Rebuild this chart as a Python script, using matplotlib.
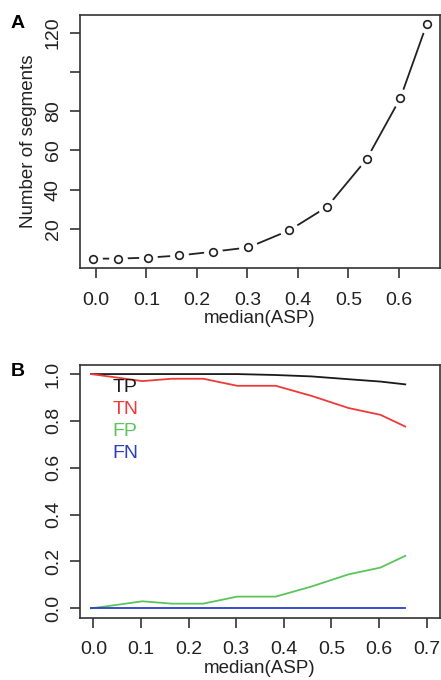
import matplotlib
matplotlib.use('Agg')
from matplotlib import pyplot as plt

matplotlib.rcParams['font.family'] = ['Liberation Sans', 'DejaVu Sans']

# data
asp = [-0.005, 0.043, 0.103, 0.165, 0.231, 0.302, 0.383, 0.458, 0.536, 0.603, 0.655]
n_segments = [4.9, 4.9, 5.4, 6.5, 8.4, 10.6, 19.3, 31.3, 55.5, 86.7, 124.2]

tp = [1.0, 1.0, 1.0, 1.0, 1.0, 1.0, 0.996, 0.99, 0.978, 0.968, 0.956]
tn = [1.0, 0.987, 0.97, 0.98, 0.98, 0.95, 0.95, 0.907, 0.855, 0.826, 0.776]
fp = [0.0, 0.013, 0.03, 0.02, 0.02, 0.05, 0.05, 0.093, 0.145, 0.174, 0.224]
fn = [0.0, 0.0, 0.0, 0.0, 0.0, 0.0, 0.0, 0.0, 0.0, 0.0, 0.0]

a_xticks = [0.0, 0.1, 0.2, 0.3, 0.4, 0.5, 0.6]
a_yticks = [20, 40, 60, 80, 100, 120]
a_yticklabels = ['20', '40', '60', '80', '', '120']
b_xticks = [0.0, 0.1, 0.2, 0.3, 0.4, 0.5, 0.6, 0.7]
b_yticks = [0.0, 0.2, 0.4, 0.6, 0.8, 1.0]

series_names = ['TP', 'TN', 'FP', 'FN']
series_colors = ['#1a1a1a', '#f03a3a', '#5cc45c', '#2c3fbf']

text_color = '#222222'
tick_size = 14
label_size = 13.5


def r_style(ax):
    for sp in ax.spines.values():
        sp.set_linewidth(1.2)
        sp.set_color('#333333')
    ax.tick_params(direction='out', length=7, width=1.2, color='#333333',
                   labelsize=tick_size, labelcolor=text_color)
    ax.tick_params(axis='x', pad=10)
    ax.tick_params(axis='y', pad=6)
    for lab in ax.get_yticklabels():
        lab.set_rotation(90)
        lab.set_va('center')


def r_lim(lo, hi):
    pad = (hi - lo) * 0.04
    return lo - pad, hi + pad


fig = plt.figure(figsize=(4.41, 6.8), dpi=100)

# panel A
ax1 = fig.add_axes([80 / 441, 1 - 268 / 680, 360 / 441, 253 / 680])
ax1.plot(asp, n_segments, color='#222222', linewidth=1.3, zorder=1)
ax1.plot(asp, n_segments, linestyle='none', marker='o', markersize=12.5,
         markerfacecolor='white', markeredgecolor='white', zorder=2)
ax1.plot(asp, n_segments, linestyle='none', marker='o', markersize=5.5,
         markerfacecolor='white', markeredgecolor='#222222', markeredgewidth=1.2, zorder=3)
ax1.set_xlim(r_lim(min(asp), max(asp)))
ax1.set_ylim(r_lim(min(n_segments), max(n_segments)))
ax1.set_xticks(a_xticks, [f'{v:.1f}' for v in a_xticks])
ax1.set_yticks(a_yticks, a_yticklabels)
r_style(ax1)
ax1.set_xlabel('median(ASP)', fontsize=label_size, color=text_color, labelpad=1)
ax1.set_ylabel('Number of segments', fontsize=label_size, color=text_color, labelpad=6)
fig.text(18 / 441, 1 - 23 / 680, 'A', fontsize=14, fontweight='bold', ha='center', va='center')

# panel B
ax2 = fig.add_axes([80 / 441, 1 - 617.7 / 680, 360 / 441, 253 / 680])
for vals, name, col in zip([tp, tn, fp, fn], series_names, series_colors):
    ax2.plot(asp, vals, color=col, linewidth=1.3, label=name)
ax2.set_xlim(r_lim(0.0, 0.7))
ax2.set_ylim(r_lim(0.0, 1.0))
ax2.set_xticks(b_xticks, [f'{v:.1f}' for v in b_xticks])
ax2.set_yticks(b_yticks, [f'{v:.1f}' for v in b_yticks])
r_style(ax2)
ax2.set_xlabel('median(ASP)', fontsize=label_size, color=text_color, labelpad=1)

for i, (name, col) in enumerate(zip(series_names, series_colors)):
    ax2.text(0.041, 0.944 - i * 0.094, name, color=col, fontsize=tick_size,
             ha='left', va='center')

fig.text(18 / 441, 1 - 371.7 / 680, 'B', fontsize=14, fontweight='bold', ha='center', va='center')

fig.savefig('out.png', dpi=100)
